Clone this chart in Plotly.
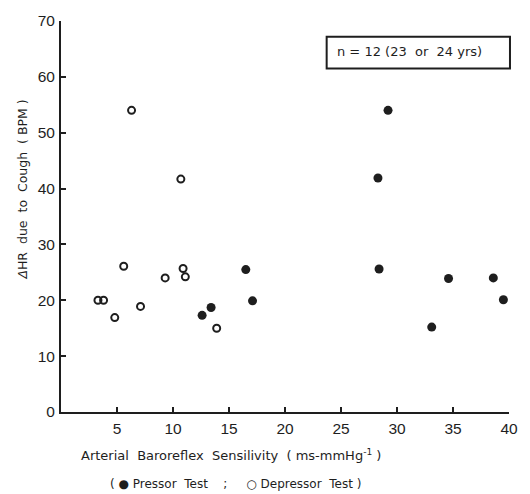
import plotly.graph_objects as go

# Arterial baroreflex sensitivity (ms/mmHg) vs heart-rate change on cough (BPM)
pressor_brs = [12.6, 13.4, 16.5, 17.1, 29.2, 28.3, 28.4, 34.6, 38.6, 39.5, 33.1]
pressor_dhr = [17.3, 18.7, 25.5, 19.9, 54.0, 41.9, 25.6, 23.9, 24.0, 20.1, 15.2]

depressor_brs = [6.3, 10.7, 5.6, 9.3, 10.9, 11.1, 3.3, 3.8, 4.8, 7.1, 13.9]
depressor_dhr = [54.0, 41.7, 26.1, 24.0, 25.7, 24.2, 20.0, 20.0, 16.9, 18.9, 15.0]

x_ticks = [5, 10, 15, 20, 25, 30, 35, 40]
y_ticks = [0, 10, 20, 30, 40, 50, 60, 70]

INK = "#1e1e1e"
TICK_FONT = "Liberation Sans, Arial, sans-serif"
TEXT_FONT = "DejaVu Sans, Verdana, sans-serif"

W, H = 530, 494
L, R, T, B = 61, 12, 16, 82


def px(x):
    """Pixel column -> paper fraction."""
    return (x - L) / (W - L - R)


def py(y):
    """Pixel row -> paper fraction."""
    return (H - B - y) / (H - T - B)


fig = go.Figure()
fig.add_trace(go.Scatter(
    x=depressor_brs, y=depressor_dhr, mode="markers", name="Depressor Test",
    marker=dict(symbol="circle-open", size=7, color=INK, line=dict(width=2, color=INK)),
))
fig.add_trace(go.Scatter(
    x=pressor_brs, y=pressor_dhr, mode="markers", name="Pressor Test",
    marker=dict(symbol="circle", size=9, color=INK),
))

axis_common = dict(
    showgrid=False, zeroline=False, showline=True, linecolor=INK, linewidth=2,
    ticks="inside", ticklen=5, tickwidth=1.5, tickcolor=INK,
    tickfont=dict(family=TICK_FONT, size=15.5, color=INK),
)

fig.update_xaxes(range=[0, 40], tickvals=x_ticks, ticktext=[str(v) for v in x_ticks],
                 ticklabelstandoff=1, **axis_common)
fig.update_yaxes(range=[0, 70], tickvals=y_ticks, ticktext=[str(v) for v in y_ticks],
                 ticklabelstandoff=1, **axis_common)


def label(x, y, text, size=12.5, angle=0):
    return dict(x=px(x), y=py(y), xref="paper", yref="paper", showarrow=False,
                xanchor="center", yanchor="middle", textangle=angle, text=text,
                font=dict(family=TEXT_FONT, size=size, color=INK))


annotations = [
    label(234, 456, "Arterial  Baroreflex  Sensilivity  ( ms-mmHg<sup>-1</sup> )", size=13),
    label(239, 485, "( ● Pressor  Test    ;     ○ Depressor  Test )", size=12),
    label(22, 187, "<i>Δ</i>HR  due  to  Cough  ( BPM )", angle=-90),
    label(417, 47, "n = 12 (23  or  24 yrs)", size=13),
]

fig.add_shape(type="rect", xref="paper", yref="paper",
              x0=px(332), x1=px(519), y0=py(64), y1=py(32),
              line=dict(color=INK, width=2))

fig.update_layout(
    width=W, height=H,
    margin=dict(l=L, r=R, t=T, b=B),
    paper_bgcolor="white", plot_bgcolor="white",
    showlegend=False,
    annotations=annotations,
)

fig.write_html("out.html")
